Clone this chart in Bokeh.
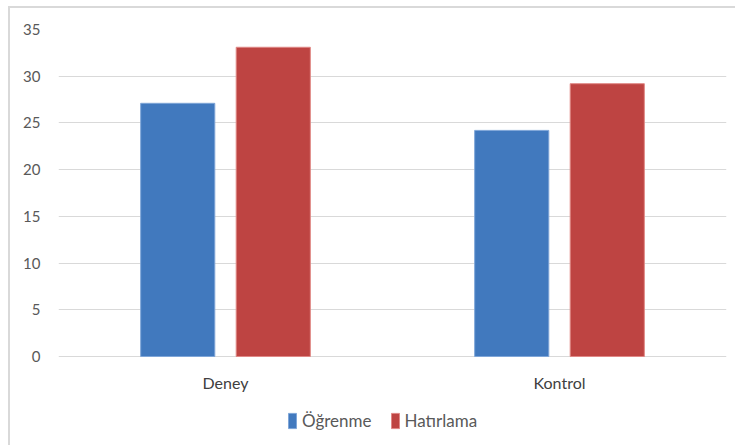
from bokeh.plotting import figure
from bokeh.models import (FactorRange, Range1d, ColumnDataSource, Legend, LegendItem,
                          FixedTicker)
from bokeh.core.properties import value
from bokeh.transform import dodge
from bokeh.embed import file_html
from bokeh.resources import INLINE

# Group means for the two groups
groups = ["Deney", "Kontrol"]
ogrenme = [27.1, 24.2]
hatirlama = [33.1, 29.2]
series_names = ["Öğrenme", "Hatırlama"]
y_ticks = [0, 5, 10, 15, 20, 25, 30, 35]

BLUE = "#4179BE"
RED = "#BE4442"
FONT = "Lato"
TEXT = "#595959"

# the frame runs down to the bottom edge so the category labels and the
# legend can sit below the zero line
PLOT_H = 439
TOP = 21
ZERO_PX = 348          # pixels from canvas top to the zero line
px_per_unit = (ZERO_PX - TOP) / 35
y_bottom = -(PLOT_H - ZERO_PX) / px_per_unit

src = ColumnDataSource(dict(group=groups, ogrenme=ogrenme, hatirlama=hatirlama))

p = figure(
    x_range=FactorRange(factors=groups, range_padding=0),
    y_range=Range1d(y_bottom, 35),
    width=727, height=PLOT_H,
    output_backend="svg", toolbar_location=None,
    x_axis_location=None,
    min_border_left=48, min_border_right=11, min_border_top=TOP, min_border_bottom=0,
    styles={
        "margin-left": "8px", "margin-top": "6px",
        "border-left": "2px solid #D9D9D9", "border-top": "2px solid #D9D9D9",
    },
)
p.outline_line_color = None
p.background_fill_color = "white"
p.border_fill_color = "white"

bw = 0.222
r1 = p.vbar(x=dodge("group", -0.143, range=p.x_range), top="ogrenme", width=bw, source=src,
            fill_color=BLUE, line_color="#7FA6D8", line_width=1)
r2 = p.vbar(x=dodge("group", 0.143, range=p.x_range), top="hatirlama", width=bw, source=src,
            fill_color=RED, line_color="#E08886", line_width=1)

# category labels under the zero line
label_y = -26 / px_per_unit
p.text(x=groups, y=[label_y] * len(groups), text=groups,
       text_font=value(FONT), text_font_size="16px", text_color="#404040",
       text_align="center", text_baseline="middle")

# y axis
p.yaxis.ticker = FixedTicker(ticks=y_ticks)
ax = p.yaxis[0]
ax.axis_line_color = None
ax.major_tick_line_color = None
ax.minor_tick_line_color = None
ax.major_label_text_font = FONT
ax.major_label_text_font_size = "15px"
ax.major_label_text_color = TEXT
ax.major_label_standoff = 12

p.xgrid.grid_line_color = None
p.ygrid.grid_line_color = "#D9D9D9"
p.ygrid.grid_line_width = 1

legend = Legend(
    items=[LegendItem(label=series_names[0], renderers=[r1]),
           LegendItem(label=series_names[1], renderers=[r2])],
    orientation="horizontal",
    location=(229, 16),
    glyph_width=10, glyph_height=19,
    label_height=19, label_standoff=5, spacing=18,
    padding=0, margin=0,
    border_line_color=None, background_fill_alpha=0,
    label_text_font=FONT, label_text_font_size="17px", label_text_color=TEXT,
)
p.add_layout(legend, "center")

open("out.html", "w").write(file_html(p, INLINE))
